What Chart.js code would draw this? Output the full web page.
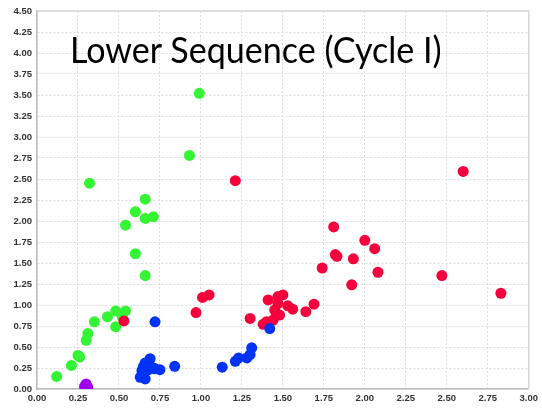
<!DOCTYPE html>
<html>
<head>
<meta charset="utf-8">
<script src="https://cdn.jsdelivr.net/npm/chart.js@4"></script>
<style>
  html, body { margin: 0; padding: 0; background: #fff; }
  #wrap { position: relative; width: 542px; height: 408px; }
  #title {
    position: absolute; left: 70px; top: 27px;
    font-family: Lato, "Open Sans", sans-serif; font-size: 36px; color: #000;
    white-space: nowrap; transform-origin: 0 0;
  }
</style>
</head>
<body>
<div id="wrap">
  <canvas id="scatter" width="542" height="408"></canvas>
  <div id="title">Lower Sequence (Cycle I)</div>
</div>
<script>
// axis ticks
const xMin = 0, xMax = 3, xStep = 0.25;
const yMin = 0, yMax = 4.5, yStep = 0.25;

// purple group
const purpleX = [0.29, 0.30, 0.31];
const purpleY = [0.03, 0.06, 0.02];

// blue group
const blueX = [0.72, 0.84, 0.63, 0.66, 0.65, 0.69, 0.66, 0.71, 0.75, 0.68, 0.64, 0.72,
               1.13, 1.21, 1.23, 1.28, 1.30, 1.31, 1.42];
const blueY = [0.80, 0.27, 0.14, 0.12, 0.27, 0.36, 0.31, 0.25, 0.23, 0.23, 0.22, 0.24,
               0.26, 0.33, 0.37, 0.37, 0.41, 0.49, 0.72];

// red group
const redX = [0.53, 0.97, 1.01, 1.05, 1.21, 1.30, 1.38, 1.40, 1.41, 1.44, 1.45, 1.46,
              1.47, 1.48, 1.47, 1.50, 1.53, 1.56, 1.64, 1.69, 1.74, 1.81, 1.82, 1.83,
              1.92, 1.93, 2.00, 2.06, 2.08, 2.47, 2.60, 2.83];
const redY = [0.81, 0.91, 1.09, 1.12, 2.48, 0.84, 0.77, 0.80, 1.06, 0.82, 0.94, 0.88,
              1.02, 0.88, 1.10, 1.12, 0.99, 0.95, 0.92, 1.01, 1.44, 1.93, 1.60, 1.58,
              1.24, 1.55, 1.77, 1.67, 1.39, 1.35, 2.59, 1.14];

// green group
const greenX = [0.12, 0.21, 0.25, 0.26, 0.30, 0.31, 0.35, 0.43, 0.48, 0.48, 0.54, 0.52,
                0.66, 0.60, 0.54, 0.60, 0.66, 0.71, 0.66, 0.32, 0.93, 0.99];
const greenY = [0.15, 0.28, 0.40, 0.38, 0.58, 0.66, 0.80, 0.86, 0.93, 0.74, 0.93, 0.86,
                1.35, 1.61, 1.95, 2.11, 2.03, 2.05, 2.26, 2.45, 2.78, 3.52];

const toPoints = (xs, ys) => xs.map((x, i) => ({ x: x, y: ys[i] }));

// light frame on top and right of the plot area
const frame = {
  id: 'frame',
  beforeDatasetsDraw(chart) {
    const a = chart.chartArea;
    const ctx = chart.ctx;
    ctx.save();
    ctx.strokeStyle = '#d6d6d6';
    ctx.lineWidth = 1.5;
    ctx.beginPath();
    ctx.moveTo(a.left, a.top);
    ctx.lineTo(a.right, a.top);
    ctx.lineTo(a.right, a.bottom);
    ctx.stroke();
    ctx.restore();
  }
};

const tickFont = { family: 'Liberation Sans, Arial, sans-serif', size: 9.5, weight: 'bold' };

new Chart(document.getElementById('scatter'), {
  type: 'scatter',
  data: {
    datasets: [
      { label: 'purple', data: toPoints(purpleX, purpleY), backgroundColor: '#a000f0' },
      { label: 'blue', data: toPoints(blueX, blueY), backgroundColor: '#0033f5' },
      { label: 'red', data: toPoints(redX, redY), backgroundColor: '#f5003c' },
      { label: 'green', data: toPoints(greenX, greenY), backgroundColor: '#33f533' }
    ]
  },
  options: {
    responsive: false,
    animation: false,
    layout: { padding: { left: 0, right: 10, top: 11, bottom: 0 } },
    elements: { point: { radius: 5.5, borderWidth: 0, hoverRadius: 5.5 } },
    plugins: { legend: { display: false }, tooltip: { enabled: false } },
    scales: {
      x: {
        type: 'linear', min: xMin, max: xMax,
        afterFit: s => { s.height = 19; },
        ticks: { stepSize: xStep, padding: 4, color: '#333', font: tickFont,
                 callback: v => v.toFixed(2) },
        grid: { color: '#dcdcdc', drawTicks: false },
        border: { color: '#bbbbbb', width: 1.5, dash: [2, 2] }
      },
      y: {
        type: 'linear', min: yMin, max: yMax,
        afterFit: s => { s.width = 37; },
        ticks: { stepSize: yStep, padding: 5, color: '#333', font: tickFont,
                 callback: v => v.toFixed(2) },
        grid: { color: '#dcdcdc', drawTicks: false },
        border: { color: '#bbbbbb', width: 1.5, dash: [2, 2] }
      }
    }
  },
  plugins: [frame]
});

// squeeze the title to the width it has in the picture
const title = document.getElementById('title');
title.style.transform = 'scaleX(' + (372 / title.offsetWidth) + ')';
</script>
</body>
</html>
